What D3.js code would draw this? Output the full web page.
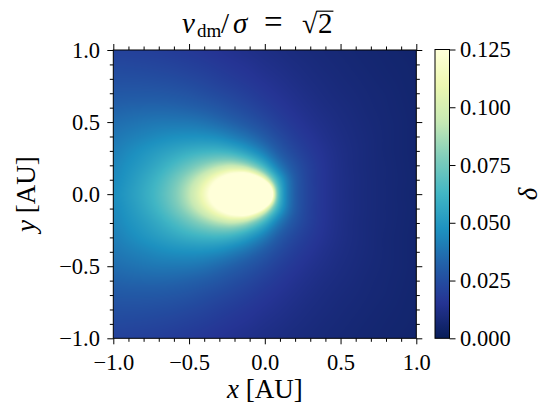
<!DOCTYPE html>
<html><head><meta charset="utf-8">
<script src="https://cdn.jsdelivr.net/npm/d3@7"></script>
<style>
body{margin:0;background:#fff;}
svg{display:block;}
text{font-family:"Liberation Serif","DejaVu Serif",serif;fill:#000;}
</style>
</head><body>
<svg id="chart" width="542" height="407"></svg>
<script>
// ---- data (delta = density enhancement) ----
const xGrid = [-1.0,-0.9,-0.8,-0.7,-0.6,-0.5,-0.4,-0.3,-0.2,-0.1,0.0,0.1,0.2,0.3,0.4,0.5,0.6,0.7,0.8,0.9,1.0];
const yGrid = [0.0,0.1,0.2,0.3,0.4,0.5,0.6,0.7,0.8,0.9,1.0]; // upper half, mirrored for y<0
const deltaY00 = [0.046,0.0511,0.0575,0.0657,0.0767,0.092,0.115,0.153,0.23,0.46,2.0,0.062,0.031,0.0207,0.0155,0.0124,0.0103,0.0089,0.0078,0.0069,0.0062];
const deltaY01 = [0.0449,0.0497,0.0558,0.0633,0.0733,0.0861,0.1036,0.1287,0.162,0.185,0.119,0.0537,0.0305,0.0205,0.0155,0.0124,0.0104,0.0089,0.0078,0.0070,0.0063];
const deltaY02 = [0.0435,0.0475,0.0521,0.0577,0.0645,0.0724,0.0810,0.0893,0.0926,0.0818,0.0595,0.0385,0.0269,0.0198,0.0153,0.0123,0.0102,0.0088,0.0078,0.0069,0.0062];
const deltaY03 = [0.0415,0.0447,0.0482,0.0518,0.0553,0.0588,0.0612,0.0617,0.0582,0.0500,0.0397,0.0294,0.0225,0.0179,0.0146,0.0120,0.0102,0.0088,0.0076,0.0068,0.0061];
const deltaY04 = [0.0390,0.0410,0.0430,0.0450,0.0465,0.0472,0.0470,0.0450,0.0409,0.0359,0.0298,0.0238,0.0192,0.0160,0.0134,0.0114,0.0099,0.0087,0.0076,0.0068,0.0061];
const deltaY05 = [0.0360,0.0372,0.0384,0.0392,0.0393,0.0390,0.0375,0.0348,0.0315,0.0278,0.0238,0.0198,0.0167,0.0142,0.0123,0.0107,0.0095,0.0084,0.0075,0.0068,0.0061];
const deltaY06 = [0.0325,0.0332,0.0336,0.0337,0.0333,0.0322,0.0306,0.0283,0.0255,0.0228,0.0198,0.0171,0.0147,0.0128,0.0112,0.0100,0.0090,0.0080,0.0073,0.0066,0.0060];
const deltaY07 = [0.0290,0.0292,0.0292,0.0290,0.0283,0.0272,0.0254,0.0235,0.0215,0.0193,0.0170,0.0150,0.0132,0.0116,0.0103,0.0093,0.0085,0.0077,0.0071,0.0064,0.0059];
const deltaY08 = [0.0258,0.0258,0.0256,0.0251,0.0244,0.0232,0.0218,0.0200,0.0183,0.0166,0.0149,0.0134,0.0119,0.0106,0.0096,0.0087,0.0080,0.0073,0.0067,0.0062,0.0057];
const deltaY09 = [0.0232,0.0230,0.0226,0.0220,0.0212,0.0201,0.0189,0.0174,0.0160,0.0147,0.0132,0.0120,0.0108,0.0098,0.0089,0.0082,0.0075,0.0069,0.0064,0.0060,0.0056];
const deltaY10 = [0.0210,0.0207,0.0202,0.0196,0.0187,0.0178,0.0167,0.0154,0.0142,0.0130,0.0119,0.0109,0.0099,0.0091,0.0084,0.0077,0.0071,0.0066,0.0062,0.0057,0.0054];

const xTicks = [-1.0,-0.5,0.0,0.5,1.0];
const yTicks = [-1.0,-0.5,0.0,0.5,1.0];
const minorTicks = [-0.9,-0.8,-0.7,-0.6,-0.4,-0.3,-0.2,-0.1,0.1,0.2,0.3,0.4,0.6,0.7,0.8,0.9];
const cbTicks = [0.000,0.025,0.050,0.075,0.100,0.125];
const cbTickLabels = ["0.000","0.025","0.050","0.075","0.100","0.125"];
const cbDomain = [0, 0.125];

// ---- layout ----
const svg = d3.select("#chart");
const L = 113.3, R = 416.3, T = 50, B = 338.3;
const x = d3.scaleLinear([-1, 1], [L, R]);
const y = d3.scaleLinear([-1, 1], [B, T]);
const cbL = 435, cbR = 449.5, cbT = 49.5, cbB = 338.3;
const cy = d3.scaleLinear(cbDomain, [cbB, cbT]);

// YlGnBu (reversed) as piecewise linear map, like matplotlib
const ylgnbu = d3.schemeYlGnBu[9].slice().reverse();
const color = d3.scaleLinear()
  .domain(d3.range(9).map(i => cbDomain[0] + (cbDomain[1]-cbDomain[0]) * i / 8))
  .range(ylgnbu).interpolate(d3.interpolateRgb).clamp(true);

// ---- heat map image ----
const halfRows = [deltaY00,deltaY01,deltaY02,deltaY03,deltaY04,deltaY05,deltaY06,deltaY07,deltaY08,deltaY09,deltaY10];
const fullRows = halfRows.slice(1).reverse().concat(halfRows); // y from -1 to 1
const fullY = yGrid.slice(1).reverse().map(v => -v).concat(yGrid);
const H = fullRows.map(r => r.map(v => 1 / v));
const gi = d3.scaleLinear([xGrid[0], xGrid[xGrid.length-1]], [0, xGrid.length-1]);
const gj = d3.scaleLinear([fullY[0], fullY[fullY.length-1]], [0, fullY.length-1]);
const nx = xGrid.length, ny = fullY.length;
function cr(p0,p1,p2,p3,t){return 0.5*((2*p1)+(-p0+p2)*t+(2*p0-5*p1+4*p2-p3)*t*t+(-p0+3*p1-3*p2+p3)*t*t*t);}
const ci = (i, n) => Math.max(0, Math.min(n-1, i));
function sample(xv, yv){
  const fi = gi(xv), fj = gj(yv);
  let i = Math.floor(fi), j = Math.floor(fj);
  i = Math.min(Math.max(i,0), nx-2); j = Math.min(Math.max(j,0), ny-2);
  const tx = fi - i, ty = fj - j;
  const rows = [];
  for (let m = -1; m <= 2; m++){
    const row = H[ci(j+m, ny)];
    rows.push(cr(row[ci(i-1,nx)], row[i], row[i+1], row[ci(i+2,nx)], tx));
  }
  const h = cr(rows[0], rows[1], rows[2], rows[3], ty);
  return h > 0 ? 1 / h : Infinity;
}
const W = Math.round(R - L), Hh = Math.round(B - T);
const canvas = document.createElement("canvas");
canvas.width = W; canvas.height = Hh;
const ctx = canvas.getContext("2d");
const img = ctx.createImageData(W, Hh);
const xs = d3.scaleLinear([0, W], [-1, 1]);
const ys = d3.scaleLinear([0, Hh], [1, -1]);
for (let py = 0; py < Hh; py++){
  for (let px = 0; px < W; px++){
    const v = sample(xs(px + 0.5), ys(py + 0.5));
    const c = d3.rgb(color(Math.min(v, 1)));
    const k = 4 * (py * W + px);
    img.data[k] = c.r; img.data[k+1] = c.g; img.data[k+2] = c.b; img.data[k+3] = 255;
  }
}
ctx.putImageData(img, 0, 0);
svg.append("image").attr("x", L).attr("y", T).attr("width", R - L).attr("height", B - T)
  .attr("preserveAspectRatio", "none").attr("href", canvas.toDataURL());

// ---- axes ----
const fmt = d3.format(".1f");
const tickStyle = g => { g.select(".domain").remove(); g.selectAll("line").attr("stroke","#000").attr("stroke-width",1); g.selectAll("text").attr("font-size",23); };
svg.append("g").attr("transform",`translate(0,${B})`).call(d3.axisBottom(x).tickValues(xTicks).tickSize(6).tickPadding(10).tickFormat(fmt)).call(tickStyle);
svg.append("g").attr("transform",`translate(0,${B})`).call(d3.axisBottom(x).tickValues(minorTicks).tickSize(3.5).tickFormat("")).call(tickStyle);
svg.append("g").attr("transform",`translate(0,${T})`).call(d3.axisTop(x).tickValues(xTicks).tickSize(6).tickFormat("")).call(tickStyle);
svg.append("g").attr("transform",`translate(0,${T})`).call(d3.axisTop(x).tickValues(minorTicks).tickSize(3.5).tickFormat("")).call(tickStyle);
svg.append("g").attr("transform",`translate(${L},0)`).call(d3.axisLeft(y).tickValues(yTicks).tickSize(6).tickPadding(7.3).tickFormat(fmt)).call(tickStyle);
svg.append("g").attr("transform",`translate(${L},0)`).call(d3.axisLeft(y).tickValues(minorTicks).tickSize(3.5).tickFormat("")).call(tickStyle);
svg.append("g").attr("transform",`translate(${R},0)`).call(d3.axisRight(y).tickValues(yTicks).tickSize(6).tickFormat("")).call(tickStyle);
svg.append("g").attr("transform",`translate(${R},0)`).call(d3.axisRight(y).tickValues(minorTicks).tickSize(3.5).tickFormat("")).call(tickStyle);
svg.append("rect").attr("x",L).attr("y",T).attr("width",R-L).attr("height",B-T).attr("fill","none").attr("stroke","#000").attr("stroke-width",1);

// ---- colorbar ----
const defs = svg.append("defs");
const grad = defs.append("linearGradient").attr("id","cbgrad").attr("x1",0).attr("y1",1).attr("x2",0).attr("y2",0);
d3.range(0, 1.0001, 0.02).forEach(t => grad.append("stop").attr("offset", t).attr("stop-color", color(cbDomain[0] + t*(cbDomain[1]-cbDomain[0]))));
svg.append("rect").attr("x",cbL).attr("y",cbT).attr("width",cbR-cbL).attr("height",cbB-cbT).attr("fill","url(#cbgrad)").attr("stroke","#000").attr("stroke-width",1);
svg.append("g").attr("transform",`translate(${cbR},0)`).call(d3.axisRight(cy).tickValues(cbTicks).tickSize(6).tickPadding(4.5).tickFormat((d,i)=>cbTickLabels[i])).call(tickStyle);
svg.selectAll("g.tick text").attr("font-size",22.5);

// ---- labels ----
const xl = svg.append("text").attr("x", (L+R)/2).attr("y", 398).attr("text-anchor","middle").attr("font-size",27);
xl.append("tspan").attr("font-style","italic").text("x");
xl.append("tspan").text(" [AU]");
const yl = svg.append("text").attr("transform",`translate(35,${(T+B)/2}) rotate(-90)`).attr("text-anchor","middle").attr("font-size",27);
yl.append("tspan").attr("font-style","italic").text("y");
yl.append("tspan").text(" [AU]");
svg.append("text").attr("transform",`translate(537,${(cbT+cbB)/2}) rotate(-90)`).attr("text-anchor","middle").attr("font-size",27).attr("font-style","italic").text("δ");

// title  v_dm / σ = √2
const mctx = document.createElement("canvas").getContext("2d");
mctx.font = "100px 'Liberation Serif'";
const mR = mctx.measureText("√");
let sqFs = Math.max(28, Math.min(40, 18 / mR.actualBoundingBoxAscent * 100));
const sqTop = 33 - mR.actualBoundingBoxAscent * sqFs / 100;
const sqRight = 302 + mR.actualBoundingBoxRight * sqFs / 100;
const title = svg.append("text").attr("y", 33).attr("font-size",29);
title.append("tspan").attr("x",182).attr("font-style","italic").text("v");
title.append("tspan").attr("x",197).attr("y",37).attr("font-size",19).text("dm");
title.append("tspan").attr("x",221).attr("y",33).text("/");
title.append("tspan").attr("x",233).attr("font-style","italic").text("σ");
title.append("tspan").attr("x",264).attr("font-size",33).text("=");
title.append("tspan").attr("x",302).attr("font-size",sqFs).text("√");
title.append("tspan").attr("x",Math.max(317, sqRight + 0.5)).attr("font-size",29).text("2");
const tn = title.node();
const e2 = tn.getExtentOfChar(tn.getNumberOfChars()-1);
svg.append("line").attr("x1", sqRight - 1).attr("x2", e2.x + e2.width + 1)
  .attr("y1", sqTop + 0.6).attr("y2", sqTop + 0.6).attr("stroke","#000").attr("stroke-width",1.2);
</script>
</body></html>
